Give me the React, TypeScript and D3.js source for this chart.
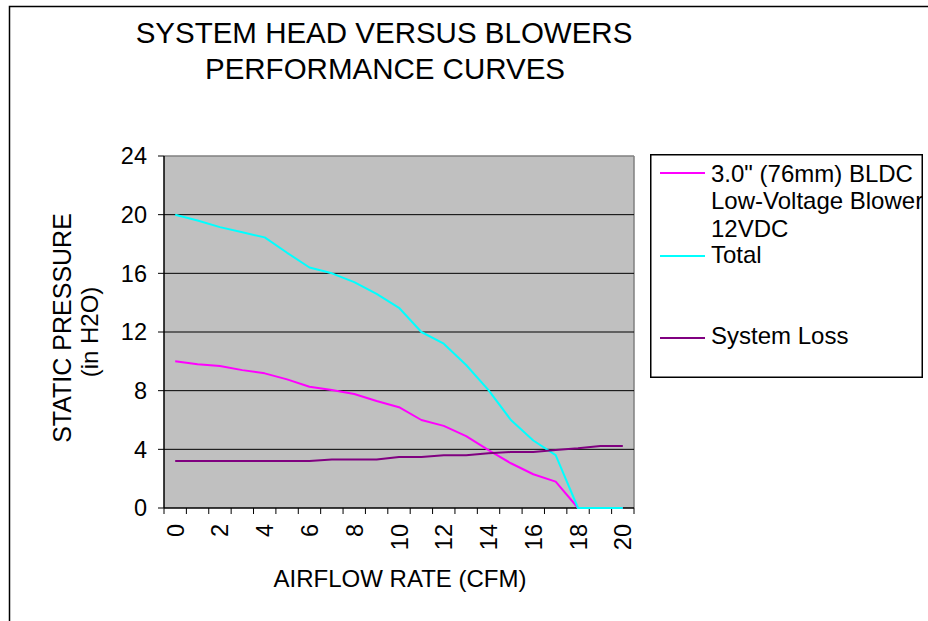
import React from "react";
import * as d3 from "d3";

const categories = ["0","1","2","3","4","5","6","7","8","9","10","11","12","13","14","15","16","17","18","19","20"];
const blower = [10.0, 9.8, 9.68, 9.4, 9.18, 8.77, 8.27, 8.04, 7.77, 7.3, 6.87, 6.0, 5.6, 4.9, 3.95, 3.05, 2.3, 1.8, 0, 0, 0];
const total = [20.0, 19.6, 19.15, 18.8, 18.45, 17.4, 16.4, 16.0, 15.4, 14.6, 13.65, 12.0, 11.2, 9.75, 8.04, 6.0, 4.6, 3.6, 0, 0, 0];
const systemLoss = [3.2, 3.2, 3.2, 3.2, 3.2, 3.2, 3.2, 3.3, 3.3, 3.3, 3.48, 3.48, 3.6, 3.6, 3.73, 3.82, 3.82, 3.95, 4.07, 4.23, 4.23];
const yTicks = [0, 4, 8, 12, 16, 20, 24];
const xLabels = ["0","2","4","6","8","10","12","14","16","18","20"];

const seriesList = [
  { name: ["3.0\" (76mm) BLDC", "Low-Voltage Blower", "12VDC"], values: blower, color: "#FF00FF" },
  { name: ["Total"], values: total, color: "#00FFFF" },
  { name: ["System Loss"], values: systemLoss, color: "#800080" },
];

const FONT = "'Liberation Sans', Arial, sans-serif";

export default function App() {
  const W = 928, H = 621;
  const left = 164, right = 634, top = 156, bottom = 508;
  const x = d3.scaleBand<string>().domain(categories).range([left, right]).padding(0);
  const y = d3.scaleLinear().domain([0, 24]).range([bottom, top]);
  const bw = x.bandwidth();
  const cx = (c: string) => (x(c) as number) + bw / 2;

  const line = d3.line<number>()
    .x((_, i) => cx(categories[i]))
    .y((v) => y(v));

  const tickEdges = categories.map((c) => x(c) as number).concat([right]);

  return (
    <div style={{ position: "absolute", left: 0, top: 0 }}>
      <svg width={W} height={H} style={{ display: "block", background: "#fff" }}>
        {/* outer chart border */}
        <rect x={9.5} y={6.5} width={W + 20} height={H + 20} fill="none" stroke="#000" strokeWidth={1.5} />

        {/* title */}
        <text x={384} y={43} textAnchor="middle" fontFamily={FONT} fontSize={29.5} fill="#000">SYSTEM HEAD VERSUS BLOWERS</text>
        <text x={385} y={79} textAnchor="middle" fontFamily={FONT} fontSize={29.5} fill="#000">PERFORMANCE CURVES</text>

        {/* plot area */}
        <rect x={left} y={top} width={right - left} height={bottom - top} fill="#C0C0C0" />
        <line x1={left} x2={right} y1={top} y2={top} stroke="#808080" strokeWidth={1.5} />
        <line x1={right} x2={right} y1={top} y2={bottom} stroke="#808080" strokeWidth={1.5} />
        {yTicks.filter((t) => t > 0 && t < 24).map((t) => (
          <line key={t} x1={left} x2={right} y1={y(t)} y2={y(t)} stroke="#000" strokeWidth={1} />
        ))}

        {/* y axis */}
        <line x1={left} x2={left} y1={top} y2={bottom} stroke="#000" strokeWidth={1.5} />
        {yTicks.map((t) => (
          <g key={t}>
            <line x1={left - 6} x2={left} y1={y(t)} y2={y(t)} stroke="#000" strokeWidth={1} />
            <text x={147} y={y(t)} dy="0.36em" textAnchor="end" fontFamily={FONT} fontSize={23.5} fill="#000">{t}</text>
          </g>
        ))}

        {/* x axis */}
        <line x1={left} x2={right} y1={bottom} y2={bottom} stroke="#000" strokeWidth={1.5} />
        {tickEdges.map((e, i) => (
          <line key={i} x1={e} x2={e} y1={bottom} y2={bottom + 6} stroke="#000" strokeWidth={1} />
        ))}
        {xLabels.map((l) => (
          <text key={l} transform={`translate(${cx(l) + 8.5},${524}) rotate(-90)`} textAnchor="end"
            fontFamily={FONT} fontSize={23.5} fill="#000">{l}</text>
        ))}

        {/* axis titles */}
        <text x={400} y={587} textAnchor="middle" fontFamily={FONT} fontSize={24} fill="#000">AIRFLOW RATE (CFM)</text>
        <text transform={`translate(71,328) rotate(-90)`} textAnchor="middle" fontFamily={FONT} fontSize={25} fill="#000">STATIC PRESSURE</text>
        <text transform={`translate(98,332) rotate(-90)`} textAnchor="middle" fontFamily={FONT} fontSize={24} fill="#000">(in H2O)</text>

        {/* series */}
        {seriesList.map((s) => (
          <path key={s.color} d={line(s.values) || ""} fill="none" stroke={s.color} strokeWidth={2} strokeLinejoin="round" />
        ))}

        {/* legend */}
        <svg x={650} y={154} width={273} height={224} overflow="hidden">
          <rect x={0.75} y={0.75} width={271.5} height={222.5} fill="#fff" stroke="#000" strokeWidth={1.5} />
          {[
            { s: seriesList[0], ly: 19, lines: [19, 46.5, 74] },
            { s: seriesList[1], ly: 102, lines: [100] },
            { s: seriesList[2], ly: 184, lines: [181] },
          ].map(({ s, ly, lines }) => (
            <g key={s.color}>
              <line x1={10} x2={55} y1={ly} y2={ly} stroke={s.color} strokeWidth={2} />
              {s.name.map((n, i) => (
                <text key={i} x={61} y={lines[i]} dy="0.36em" fontFamily={FONT} fontSize={24} fill="#000">{n}</text>
              ))}
            </g>
          ))}
        </svg>
      </svg>
    </div>
  );
}
